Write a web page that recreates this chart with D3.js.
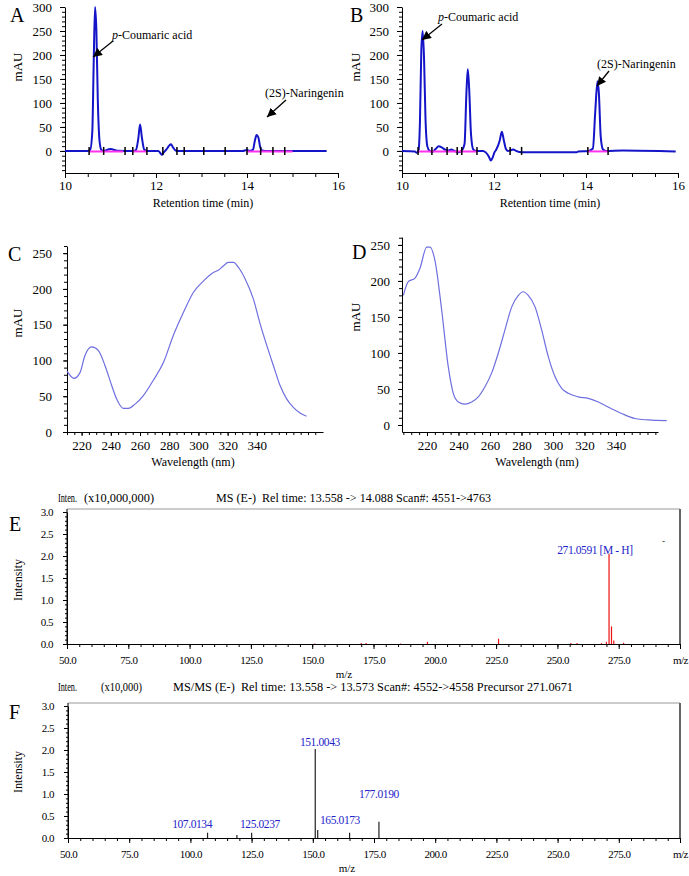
<!DOCTYPE html>
<html><head><meta charset="utf-8">
<script src="https://cdn.jsdelivr.net/npm/d3@7"></script>
<style>
body{margin:0;background:#fff;}
svg{display:block;font-family:"Liberation Serif","Tinos","DejaVu Serif",serif;}
</style></head><body>
<script>
// ---------------- DATA ----------------
// Panel A chromatogram (min, mAU)
const chromATime = [10.00,10.50,10.55,10.60,10.63,10.66,10.69,10.72,10.76,10.80,10.85,10.95,11.00,11.05,11.15,11.50,11.56,11.61,11.65,11.69,11.74,11.80,12.05,12.10,12.13,12.17,12.23,12.29,12.33,12.37,12.43,12.50,13.90,14.00,14.06,14.13,14.17,14.21,14.25,14.29,14.33,14.40,15.75];
const chromAmAU  = [0,0,1,40,180,300,250,110,20,2,0,3,4,3,0.5,0,2,25,55,28,3,0,0,-5,-8,-3,3,11,14,8,1,0,0,2,0,2,20,33,28,8,1,0,0];
const baselineA = [[10.52,11.28],[11.49,11.78],[14.00,15.00]];
const marksA = [10.53,10.85,11.32,11.49,11.80,12.15,12.46,12.62,13.05,13.52,14.00,14.30,14.57,14.83];
// Panel B chromatogram
const chromBTime = [10.00,10.28,10.32,10.36,10.39,10.42,10.45,10.48,10.51,10.55,10.60,10.66,10.73,10.80,10.87,10.95,11.02,11.07,11.14,11.22,11.29,11.36,11.40,11.43,11.46,11.50,11.55,11.62,11.76,11.82,11.89,11.93,11.97,12.01,12.05,12.12,12.17,12.21,12.26,12.30,12.38,12.42,12.48,12.60,13.80,13.83,14.05,14.15,14.20,14.25,14.28,14.32,14.37,14.43,14.80,15.95];
const chromBmAU  = [0,-1,-4,2,60,210,250,190,70,10,0,-2,4,10,7,2,1,3,0,-3,0,15,120,170,130,35,3,0,0,-3,-12,-20,-14,-3,3,20,40,24,4,0,2,3,0,-3,-3,-1,0,5,80,145,120,30,3,0,1,-1];
const baselineB = [[10.35,11.63],[14.04,14.48]];
const marksB = [10.35,10.65,10.98,11.20,11.30,11.63,12.35,12.60,14.04,14.48];
const chromTicks = [10,12,14,16];
const mAUTicks = [0,50,100,150,200,250,300];
// Panel C UV spectrum (nm, mAU)
const uvCWl  = [210,214.8,218.9,222.3,226.9,231.4,236,240.6,244,248.6,252,256.6,262.3,269,276,282.8,289.7,296.5,303.4,310.2,313.6,317,320.5,324,327.4,332,337.6,342,346.8,351.3,355.9,360.5,365,369.6,374];
const uvCmAU = [85,75,83,107,119,114,93,65,46,33,33,39,51,72,97,135,167,195,211,223,226,232,237,237,230,214,186,153,121,93,65,46,34.5,26.5,22];
// Panel D UV spectrum
const uvDWl  = [205,208.1,212.4,215.6,219.8,221.9,225,229.3,233.5,236.7,239.9,244,248.4,252.6,256.8,261,265.3,269.5,273.8,278,281.1,284.3,288.6,292.8,297,301.3,305.5,309.7,316,322.4,328.8,335,343.6,352,360.5,372.2];
const uvDmAU = [180,199,204,218,247,247,229,160,81,44,32,29,32,39,53,72,100,132,164,180,185,180,164,132,95,67,51,44,39,37,32,25,16,9,7,6];
const wlTicks = [220,240,260,280,300,320,340];
const uvTicks = [0,50,100,150,200,250];
// Panel E MS (m/z, intensity x10^7)
const msEmz  = [151,170,172,186,197,226,255.5,258,268,270,271.06,272.06,273,277];
const msEInt = [0.01,0.02,0.02,0.01,0.05,0.12,0.02,0.02,0.02,0.05,2.05,0.40,0.08,0.03];
const msELabel = ["271.0591 [M - H]"];
const msELabelMz = [265.3];
const msELabelLevel = [2.05];
// Panel F MS/MS (m/z, intensity x10^4)
const msFmz  = [107.01,119.0,125.02,151.00,152.0,165.02,177.02];
const msFInt = [0.12,0.07,0.12,2.02,0.18,0.12,0.37];
const msFLabel = ["107.0134","125.0237","151.0043","165.0173","177.0190"];
const msFLabelMz = [100.7,128.4,152.9,161.1,177.0];
const msFLabelLevel = [0.23,0.23,2.1,0.32,0.92];
const mzTicks = [50,75,100,125,150,175,200,225,250,275,300];
const intTicks = [0,0.5,1.0,1.5,2.0,2.5,3.0];

// ---------------- DRAW ----------------
const svg = d3.select("body").append("svg").attr("width",689).attr("height",876);
const defs = svg.append("defs");
defs.append("marker").attr("id","arr").attr("viewBox","0 0 10 10").attr("refX",10).attr("refY",5)
  .attr("markerWidth",9).attr("markerHeight",9).attr("markerUnits","userSpaceOnUse").attr("orient","auto")
  .append("path").attr("d","M0,0 L10,5 L0,10 z").attr("fill","#000");

const SERIF = '"Liberation Serif","Tinos","DejaVu Serif",serif';

function axis(g, fn, scale, majors, minors, majLen, minLen, pad, fmt, fs, ls) {
  const m = g.append("g").call(fn(scale).tickValues(minors).tickSize(minLen).tickFormat("").tickSizeOuter(0));
  m.select(".domain").remove();
  m.selectAll("line").attr("stroke","#000");
  const a = g.append("g").call(fn(scale).tickValues(majors).tickSize(majLen).tickPadding(pad).tickFormat(fmt).tickSizeOuter(0));
  a.attr("font-family",SERIF).attr("font-size",fs);
  a.selectAll("line,path").attr("stroke","#000");
  a.selectAll("text").attr("fill","#000").attr("font-family",SERIF).attr("font-size",fs);
  if (ls) a.selectAll("text").attr("letter-spacing",ls);
  return a;
}
function txt(x,y,s,fs,opts={}) {
  const t = svg.append("text").attr("x",x).attr("y",y).text(s).attr("font-family",SERIF).attr("font-size",fs).attr("fill",opts.fill||"#000");
  if (opts.anchor) t.attr("text-anchor",opts.anchor);
  if (opts.rot) t.attr("transform",`rotate(-90,${x},${y})`);
  if (opts.len) t.attr("textLength",opts.len).attr("lengthAdjust","spacingAndGlyphs");
  t.attr("xml:space","preserve").style("white-space","pre");
  return t;
}

// ---- Chromatograms A & B ----
function chrom(x0, x1, times, vals, baselines, marks) {
  const x = d3.scaleLinear().domain([10,16]).range([x0,x1]);
  const y = d3.scaleLinear().domain([-46,300]).range([173,7]);
  const g = svg.append("g");
  axis(g.append("g").attr("transform",`translate(${x0},0)`), d3.axisLeft, y, mAUTicks, d3.range(-40,301,10), 5, 3, 8, d3.format("d"), 13);
  axis(g.append("g").attr("transform",`translate(0,173)`), d3.axisBottom, x, chromTicks, d3.range(10,16.01,0.5), 5, 4, 3, d3.format("d"), 13);
  const line = d3.line().x((d,i)=>x(times[i])).y(d=>y(d)).curve(d3.curveMonotoneX);
  g.append("path").attr("d",line(vals)).attr("fill","none").attr("stroke","#1414c8").attr("stroke-width",2);
  baselines.forEach(b=>{
    g.append("line").attr("x1",x(b[0])).attr("x2",x(b[1])).attr("y1",y(0)+0.5).attr("y2",y(0)+0.5)
      .attr("stroke","#ff33ee").attr("stroke-width",2);
  });
  marks.forEach(t=>{
    g.append("line").attr("x1",x(t)).attr("x2",x(t)).attr("y1",y(0)-4).attr("y2",y(0)+4)
      .attr("stroke","#000").attr("stroke-width",1.5);
  });
}
chrom(65,338,chromATime,chromAmAU,baselineA,marksA);
chrom(402,678,chromBTime,chromBmAU,baselineB,marksB);

function arrow(x1,y1,x2,y2){
  svg.append("line").attr("x1",x1).attr("y1",y1).attr("x2",x2).attr("y2",y2).attr("stroke","#000").attr("stroke-width",1.3).attr("marker-end","url(#arr)");
}
// labels A
txt(10,22,"A",20);
txt(22,67,"mAU",13,{anchor:"middle",rot:true});
txt(203,207,"Retention time (min)",12,{anchor:"middle"});
const pc1 = txt(112,39,"",12); pc1.append("tspan").attr("font-style","italic").text("p"); pc1.append("tspan").text("-Coumaric acid");
arrow(113,41,93,57);
txt(265,97,"(2S)-Naringenin",12);
arrow(286,100,267,117);
// labels B
txt(350,22,"B",20);
txt(360,67,"mAU",13,{anchor:"middle",rot:true});
txt(550,207,"Retention time (min)",12,{anchor:"middle"});
const pc2 = txt(438,21,"",12); pc2.append("tspan").attr("font-style","italic").text("p"); pc2.append("tspan").text("-Coumaric acid");
arrow(442,24,422,40);
txt(597,68,"(2S)-Naringenin",12);
arrow(609,71,597,86);

// ---- UV spectra C & D ----
function uv(xDom, xRange, yDom, yRange, wl, vals, minorX, minorY, ypad) {
  const x = d3.scaleLinear().domain(xDom).range(xRange);
  const y = d3.scaleLinear().domain(yDom).range(yRange);
  const g = svg.append("g");
  axis(g.append("g").attr("transform",`translate(${xRange[0]},0)`), d3.axisLeft, y, uvTicks, minorY, 4, 3, ypad, d3.format("d"), 13);
  axis(g.append("g").attr("transform",`translate(0,${yRange[0]})`), d3.axisBottom, x, wlTicks, minorX, 4, 3, 5, d3.format("d"), 13);
  const line = d3.line().x((d,i)=>x(wl[i])).y(d=>y(d)).curve(d3.curveMonotoneX);
  g.append("path").attr("d",line(vals)).attr("fill","none").attr("stroke","#6f6fe0").attr("stroke-width",1.2);
}
uv([210,385.3],[67,323],[0,260],[432,246],uvCWl,uvCmAU,d3.range(210,385,5),d3.range(0,261,10),11);
uv([204.13,366.67],[402,658],[-9.72,261],[432,237],uvDWl,uvDmAU,d3.range(205,366,5),d3.range(0,261,10),8);
txt(8,261,"C",20);
txt(22,323,"mAU",13,{anchor:"middle",rot:true});
txt(193,466,"Wavelength (nm)",12,{anchor:"middle"});
txt(352,259,"D",20);
txt(360,317,"mAU",13,{anchor:"middle",rot:true});
txt(537,466,"Wavelength (nm)",12,{anchor:"middle"});

// ---- MS panels E & F ----
function ms(x0,x1,y0,y3,boxTop,mz,ints,color,labels,labelMz,labelLv) {
  const x = d3.scaleLinear().domain([50,300]).range([x0,x1]);
  const y = d3.scaleLinear().domain([0,3]).range([y0,y3]);
  const g = svg.append("g");
  g.append("line").attr("x1",x0).attr("x2",x1).attr("y1",boxTop).attr("y2",boxTop).attr("stroke","#999").attr("stroke-width",1);
  g.append("line").attr("x1",x1).attr("x2",x1).attr("y1",boxTop).attr("y2",y0).attr("stroke","#666").attr("stroke-width",2);
  g.append("line").attr("x1",x0).attr("x2",x0).attr("y1",boxTop).attr("y2",y0).attr("stroke","#000");
  axis(g.append("g").attr("transform",`translate(${x0},0)`), d3.axisLeft, y, intTicks, d3.range(0,3.01,0.1), 4, 2, 10, d3.format(".1f"), 11, "-0.5");
  axis(g.append("g").attr("transform",`translate(0,${y0})`), d3.axisBottom, x, mzTicks, d3.range(50,300.1,5), 5, 3, 7, d=>d===300?"m/z":d3.format(".1f")(d), 11, "-0.5");
  g.selectAll(".stem").data(mz).join("line").attr("class","stem")
    .attr("x1",d=>x(d)).attr("x2",d=>x(d)).attr("y1",y(0)).attr("y2",(d,i)=>y(ints[i]))
    .attr("stroke",color).attr("stroke-width",1.2);
  labels.forEach((s,i)=>{
    txt(x(labelMz[i]), y(labelLv[i]), s, 11.5, {anchor:"middle", fill:"#2323c8"}).attr("letter-spacing","-0.4");
  });
}
ms(67,680,644,512,509,msEmz,msEInt,"#ee1111",msELabel,msELabelMz,msELabelLevel);
txt(9,531,"E",20);
txt(22,580,"Intensity",12,{anchor:"middle",rot:true});
txt(58,502,"Inten.",12,{len:19});
txt(84,502,"(x10,000,000)",12,{len:70});
txt(216,502,"MS (E-)  Rel time: 13.558 -> 14.088 Scan#: 4551->4763",12,{len:275});
txt(344,678,"m/z",11,{anchor:"middle"});
txt(662,544,"-",9);

ms(68,680,838,706,703,msFmz,msFInt,"#222",msFLabel,msFLabelMz,msFLabelLevel);
txt(9,719,"F",20);
txt(22,772,"Intensity",12,{anchor:"middle",rot:true});
txt(58,691,"Inten.",12,{len:19});
txt(101,691,"(x10,000)",12,{len:41});
txt(173,691,"MS/MS (E-)  Rel time: 13.558 -> 13.573 Scan#: 4552->4558 Precursor 271.0671",12,{len:400});
txt(347,872,"m/z",11,{anchor:"middle"});
</script>
</body></html>
